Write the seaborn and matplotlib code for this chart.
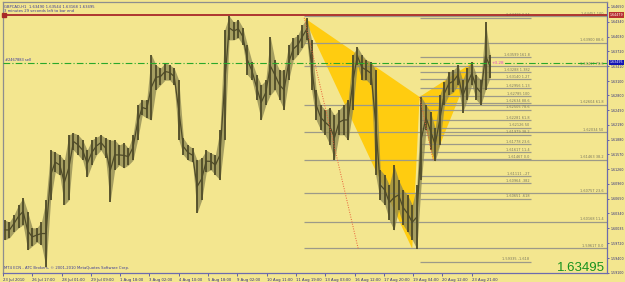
import matplotlib
matplotlib.use("Agg")
import matplotlib.pyplot as plt
from matplotlib.patches import Polygon
import numpy as np
import pandas as pd
import seaborn as sns

sns.set_theme(style="white")
plt.rcParams["font.family"] = ["DejaVu Sans"]

# ---------------- data ----------------
bar_step = 5  # H1 bars between samples
high = [1.6020, 1.6016, 1.6031, 1.6052, 1.6066, 1.6037, 1.6004, 1.6004, 1.6016, 1.6062,
        1.6166, 1.6162, 1.6156, 1.6145, 1.6198, 1.6202, 1.6198, 1.6187, 1.6166, 1.6187,
        1.6193, 1.6198, 1.6191, 1.6187, 1.6187, 1.6177, 1.6181, 1.6170, 1.6198, 1.6260,
        1.6271, 1.6271, 1.6365, 1.6344, 1.6337, 1.6348, 1.6344, 1.6337, 1.6312, 1.6191,
        1.6177, 1.6170, 1.6145, 1.6150, 1.6166, 1.6160, 1.6156, 1.6208, 1.6417, 1.6446,
        1.6433, 1.6438, 1.6421, 1.6385, 1.6350, 1.6323, 1.6302, 1.6312, 1.6402, 1.6354,
        1.6333, 1.6333, 1.6385, 1.6400, 1.6406, 1.6427, 1.6442, 1.6396, 1.6292, 1.6260,
        1.6250, 1.6254, 1.6239, 1.6250, 1.6260, 1.6271, 1.6365, 1.6381, 1.6365, 1.6354,
        1.6350, 1.6333, 1.6125, 1.6114, 1.6093, 1.6135, 1.6104, 1.6083, 1.6072, 1.6052,
        1.6093, 1.6277, 1.6260, 1.6246, 1.6212, 1.6281, 1.6308, 1.6329, 1.6333, 1.6344,
        1.6312, 1.6337, 1.6350, 1.6323, 1.6312, 1.6433, 1.6365]
low = [1.5979, 1.5983, 1.5995, 1.6004, 1.6010, 1.5958, 1.5966, 1.5974, 1.5968, 1.5922,
       1.6062, 1.6120, 1.6114, 1.6052, 1.6062, 1.6166, 1.6156, 1.6145, 1.6110, 1.6135,
       1.6156, 1.6166, 1.6150, 1.6058, 1.6125, 1.6135, 1.6129, 1.6135, 1.6145, 1.6187,
       1.6239, 1.6233, 1.6229, 1.6292, 1.6302, 1.6312, 1.6312, 1.6302, 1.6187, 1.6156,
       1.6145, 1.6141, 1.6035, 1.6062, 1.6120, 1.6125, 1.6114, 1.6104, 1.6187, 1.6396,
       1.6396, 1.6400, 1.6385, 1.6323, 1.6312, 1.6271, 1.6229, 1.6260, 1.6281, 1.6292,
       1.6271, 1.6250, 1.6312, 1.6354, 1.6365, 1.6379, 1.6396, 1.6292, 1.6229, 1.6208,
       1.6198, 1.6177, 1.6145, 1.6198, 1.6198, 1.6187, 1.6250, 1.6344, 1.6312, 1.6312,
       1.6302, 1.6114, 1.6062, 1.6052, 1.6020, 1.5999, 1.6041, 1.6010, 1.5995, 1.5979,
       1.5960, 1.6104, 1.6208, 1.6166, 1.6143, 1.6177, 1.6260, 1.6281, 1.6287, 1.6302,
       1.6244, 1.6271, 1.6302, 1.6271, 1.6260, 1.6292, 1.6317]

time_ticks = [0, 32, 64, 96, 128, 160, 192, 224, 256, 288, 320, 352, 384, 416, 448, 480, 512]
time_labels = ["23 Jul 2010", "26 Jul 17:00", "28 Jul 01:00", "29 Jul 09:00", "1 Aug 18:00",
               "3 Aug 02:00", "4 Aug 10:00", "5 Aug 18:00", "9 Aug 02:00", "10 Aug 11:00",
               "11 Aug 19:00", "13 Aug 03:00", "16 Aug 12:00", "17 Aug 20:00", "19 Aug 04:00",
               "20 Aug 12:00", "23 Aug 21:00"]
price_ticks = [1.64650, 1.64340, 1.64030, 1.63720, 1.63410, 1.63100, 1.62800, 1.62490,
               1.62190, 1.61880, 1.61570, 1.61260, 1.60960, 1.60650, 1.60340, 1.60035,
               1.59720, 1.59400, 1.59100]

# pattern points (bar, price): X, A, B, C, D
pat_bar = [329, 447, 455, 470, 514]
pat_price = [1.6442, 1.5960, 1.6277, 1.6143, 1.6350]

# long fibonacci set (retracement)
fib1_levels = [1.64451, 1.63900, 1.63417, 1.62604, 1.62034, 1.61464, 1.60758, 1.60168, 1.59617]
fib1_labels = ["1.64451 100", "1.63900 88.6", "1.63417 78.6", "1.62604 61.8", "1.62034 50",
               "1.61463 38.2", "1.60757 23.6", "1.60168 11.4", "1.59617 0.0"]
# short fibonacci set (expansion)
fib2_levels = [1.64419, 1.63599, 1.63288, 1.63140, 1.62956, 1.62785, 1.62634, 1.62505,
               1.62281, 1.62126, 1.61979, 1.61778, 1.61617, 1.61467, 1.61111, 1.60964,
               1.60651, 1.59335]
fib2_labels = ["1.64419 2.24", "1.63599 161.8", "1.63288 1.382", "1.63140 1.27", "1.62956 1.13",
               "1.62785 100", "1.62634 88.6", "1.62505 78.6", "1.62281 61.8", "1.62126 50",
               "1.61979 38.2", "1.61778 23.6", "1.61617 11.4", "1.61467 0.0", "1.61111 -.27",
               "1.60964 .382", "1.60651 .618", "1.59335 -1.618"]

red_level = 1.64479
order_level = 1.63480
last_price = 1.63495

# ---------------- figure ----------------
BG = "#F3E68F"
W, H = 625, 282
fig = plt.figure(figsize=(W / 100, H / 100), dpi=100)
fig.patch.set_facecolor(BG)
ax = fig.add_axes([3 / W, (H - 273) / H, 604 / W, 271 / H])
ax.set_facecolor(BG)
x0, x1 = 0, 659.7
ax.set_xlim(x0, x1)
ax.set_ylim(1.59097, 1.64750)

bars = np.arange(len(high)) * bar_step + 2
df = pd.DataFrame({"bar": bars, "high": high, "low": low})
df["mid"] = (df["high"] + df["low"]) / 2

# pattern triangles
tri1 = Polygon([(pat_bar[0], pat_price[0]), (pat_bar[1], pat_price[1]), (pat_bar[2], pat_price[2])],
               closed=True, fc="#FFCC10", ec="none", zorder=1)
tri2 = Polygon([(pat_bar[2], pat_price[2]), (pat_bar[3], pat_price[3]), (pat_bar[4], pat_price[4])],
               closed=True, fc="#FFCC10", ec="none", zorder=1)
ax.add_patch(tri1)
ax.add_patch(tri2)

# fib lines
lc = "#9c9a88"
tc = "#77755f"
f1_start, f1_end = 329, x1
f2_start, f2_end = 456, 577
ax.hlines(fib1_levels, f1_start, f1_end, color=lc, lw=0.9, zorder=2)
ax.hlines(fib2_levels, f2_start, f2_end, color=lc, lw=0.9, zorder=2)
for lv, lb in zip(fib1_levels, fib1_labels):
    ax.text(656, lv + 0.00008, lb, ha="right", va="bottom", fontsize=2.5, color=tc, zorder=4)
for lv, lb in zip(fib2_levels, fib2_labels):
    ax.text(575, lv + 0.00008, lb, ha="right", va="bottom", fontsize=2.5, color=tc, zorder=4)

# price bars: jagged high/low strokes
bar_col = "#4f4b28"
ax.fill_between(df["bar"], df["low"], df["high"], color="#8d8752", alpha=0.75, lw=0, zorder=3)
ax.vlines(df["bar"], df["low"], df["high"], color=bar_col, lw=1.3, zorder=3)
sns.lineplot(data=df, x="bar", y="mid", color=bar_col, lw=0.9, ax=ax, zorder=3, legend=False)

# dotted pattern lines
ax.plot([pat_bar[0], 388], [pat_price[0], pat_price[1]], ls=(0, (1, 1.5)), color="#e8603a", lw=0.7, zorder=4)
ax.plot([pat_bar[2], pat_bar[3]], [pat_price[2], pat_price[3]], ls=(0, (1, 1.5)), color="#e8603a", lw=0.7, zorder=4)

# horizontal red and order lines
ax.axhline(red_level, color="#a82828", lw=1.3, zorder=5)
ax.plot([1.5], [red_level], marker="s", ms=2.6, color="#a82828", zorder=6, clip_on=False)
ax.axhline(order_level, color="#2aa82a", lw=0.8, ls=(0, (6, 2, 1, 2)), zorder=5)
ax.text(2, order_level + 0.00025, "#2467883 sell", fontsize=2.6, color="#3434a0", va="bottom", ha="left")
ax.text(534, order_level, "+3.28", fontsize=3.0, color="#e040c8", va="center", ha="left", zorder=6,
        bbox=dict(boxstyle="square,pad=0.05", fc=BG, ec="none"))

# axes styling
ax.set_xlabel("")
ax.set_ylabel("")
ax.grid(False)
for s in ["left", "top"]:
    ax.spines[s].set_color("#8e8e8e")
    ax.spines[s].set_linewidth(0.9)
for s in ["right", "bottom"]:
    ax.spines[s].set_color("#6c6cae")
    ax.spines[s].set_linewidth(0.9)

ax.set_xticks(time_ticks)
ax.set_xticklabels(time_labels, ha="left", fontsize=2.7, color="#2b2b80")
ax.yaxis.tick_right()
ax.set_yticks(price_ticks)
ax.set_yticklabels([f"{p:.5f}" for p in price_ticks], fontsize=2.3, color="#2b2b80")
ax.tick_params(axis="x", direction="out", length=2.5, width=0.6, color="#4a4aa8", pad=1.0, bottom=True)
ax.tick_params(axis="y", direction="out", length=1.5, width=0.6, color="#4a4aa8", pad=0.8, right=True, left=False)

# highlighted price boxes on the axis
yt = ax.get_yaxis_transform()
ax.text(1.004, red_level, f"{red_level:.5f}", transform=yt, fontsize=2.3, color="white", va="center",
        ha="left", zorder=7, clip_on=False,
        bbox=dict(boxstyle="square,pad=0.2", fc="#b83030", ec="none"))
ax.text(1.004, last_price, f"{last_price:.5f}", transform=yt, fontsize=2.3, color="white", va="center",
        ha="left", zorder=7, clip_on=False,
        bbox=dict(boxstyle="square,pad=0.2", fc="#1414b4", ec="none"))

# texts
fig.text(4 / W, 1 - 6.5 / H, "GBPCAD,H1  1.63490 1.63544 1.63168 1.63495", fontsize=2.7,
         color="#3a3a98", va="center", ha="left")
fig.text(4 / W, 1 - 11.5 / H, "3 minutes 29 seconds left to bar end", fontsize=2.7,
         color="#3a3a98", va="center", ha="left")
fig.text(4 / W, 1 - 268 / H, "MT4 ECN - ATC Brokers, \u00a9 2001-2010 MetaQuotes Software Corp.",
         fontsize=2.7, color="#3a3a98", va="center", ha="left")
fig.text(605 / W, 1 - 271 / H, "1.63495", fontsize=9.5, color="#16921e", ha="right", va="baseline",
         family=["Liberation Sans", "DejaVu Sans"])

fig.savefig("out.png", dpi=100, facecolor=BG)
